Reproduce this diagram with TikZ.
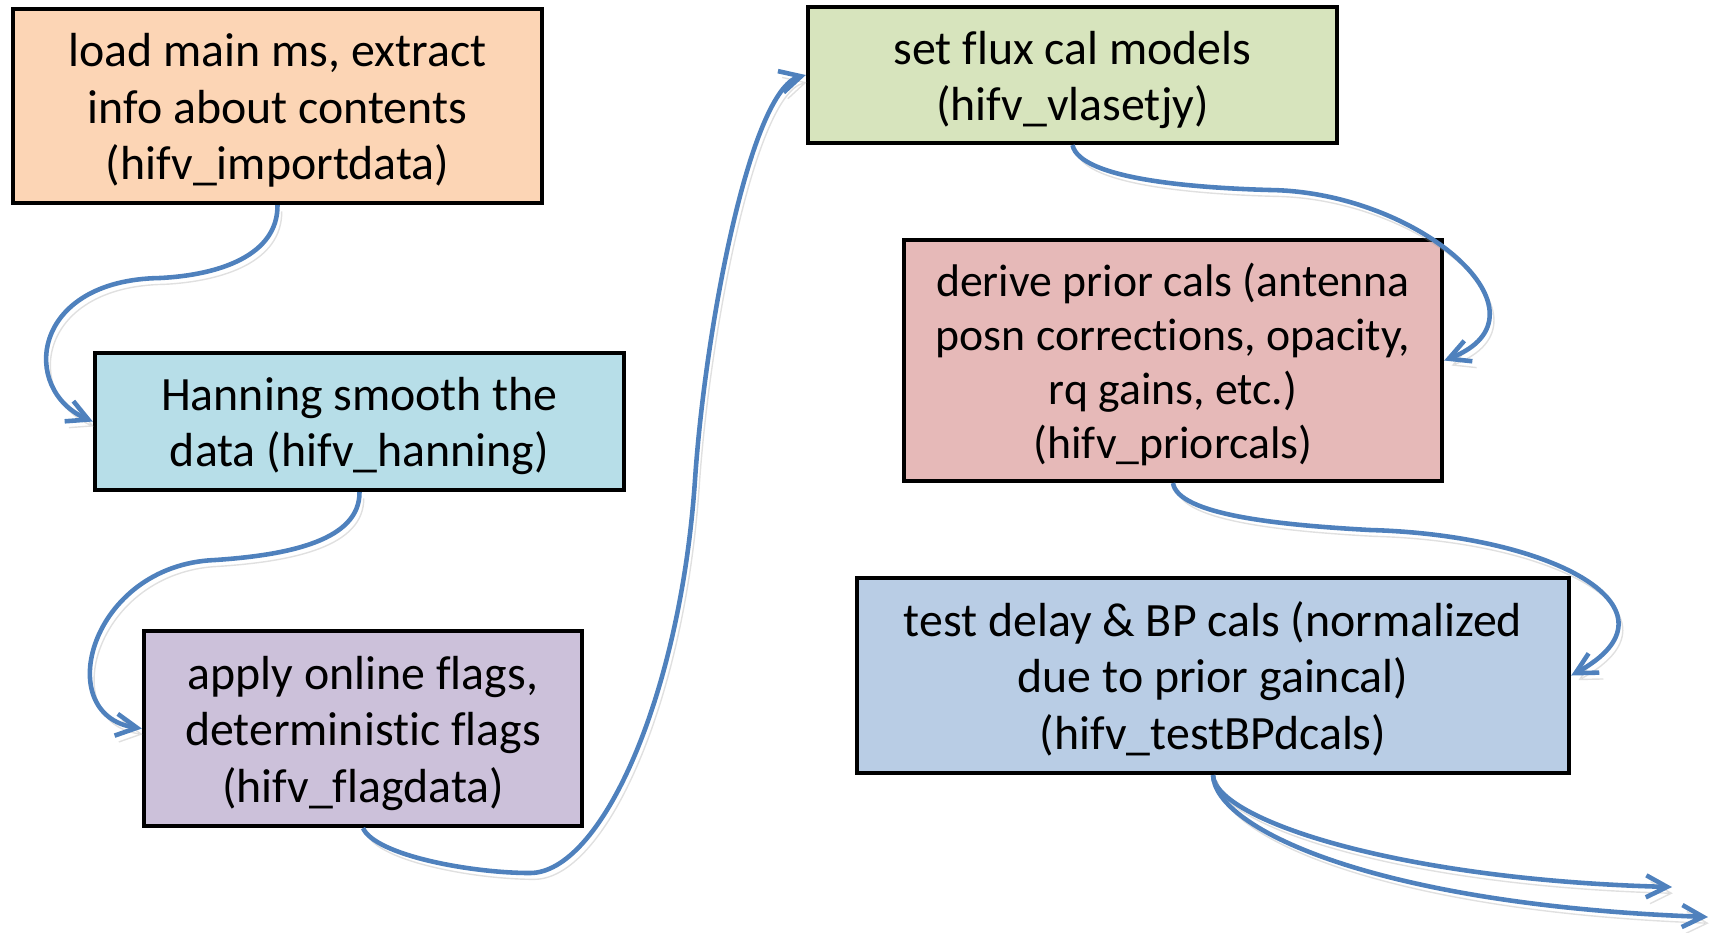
\documentclass[tikz,border=0pt]{standalone}
\usepackage{fontspec}
\setmainfont[Ligatures={NoCommon,NoRequired,NoContextual,NoRare},Contextuals=NoAlternate]{Carlito}
\usetikzlibrary{arrows.meta}
\definecolor{cOrange}{HTML}{FCD5B5}
\definecolor{cAqua}{HTML}{B7DEE8}
\definecolor{cPurple}{HTML}{CCC1DA}
\definecolor{cGreen}{HTML}{D7E4BD}
\definecolor{cRed}{HTML}{E6B9B8}
\definecolor{cBlue}{HTML}{B9CDE5}
\definecolor{arrowblue}{HTML}{4F81BD}
\newcommand\boxlines[1]{\raisebox{0pt}[\dimexpr\height+1.7pt\relax][\dimexpr\depth-1.7pt\relax]{\begin{tabular}{@{}c@{}}#1\end{tabular}}}
\begin{document}
\begin{tikzpicture}[x=0.01cm,y=-0.01cm,
  box/.style={draw=black, line width=1.15pt, inner sep=0pt,
    font=\fontsize{13.6}{16}\selectfont},
  flow/.style={draw=arrowblue, line width=1.3pt,
    -{Straight Barb[length=0.21cm,width=0.22cm]},
    preaction={draw=black!40, opacity=0.3, transform canvas={shift={(1.2pt,-1.8pt)}}}}]
\useasboundingbox (0,0) rectangle (1714,932);

\node[box, fill=cOrange, minimum width=5.29cm, minimum height=1.94cm] (imp) at (277.5,106)
  {\boxlines{load main ms, extract\\info about contents\\(hifv\_importdata)}};
\node[box, fill=cAqua, minimum width=5.29cm, minimum height=1.37cm] (han) at (359.5,421.5)
  {\boxlines{Hanning smooth the\\data (hifv\_hanning)}};
\node[box, fill=cPurple, minimum width=4.38cm, minimum height=1.95cm] (flag) at (363,728.5)
  {\boxlines{apply online flags,\\deterministic flags\\(hifv\_flagdata)}};
\node[box, fill=cGreen, minimum width=5.29cm, minimum height=1.36cm] (setjy) at (1072.5,75)
  {\boxlines{set flux cal models\\(hifv\_vlasetjy)}};
\node[box, fill=cRed, minimum width=5.38cm, minimum height=2.41cm,
  font=\fontsize{13}{15.4}\selectfont] (prior) at (1173,360.5)
  {\boxlines{derive prior cals (antenna\\posn corrections, opacity,\\rq gains, etc.)\\(hifv\_priorcals)}};
\node[box, fill=cBlue, minimum width=7.12cm, minimum height=1.95cm] (bp) at (1213,675.5)
  {\boxlines{test delay \& BP cals (normalized\\due to prior gaincal)\\(hifv\_testBPdcals)}};

\coordinate (e1) at (1672,887);
\coordinate (e2) at (1708,917);

\draw[flow] (imp.south) .. controls (278,255) and (220,275) .. (160,278)
  .. controls (30,280) and (20,390) .. (han.west);
\draw[flow] (han.south) .. controls (360,540) and (290,555) .. (215,560)
  .. controls (90,565) and (50,715) .. (flag.west);
\draw[flow] (flag.south) .. controls (375,855) and (470,873) .. (530,873)
  .. controls (600,873) and (680,700) .. (695,480)
  .. controls (705,330) and (750,90) .. (setjy.west);
\draw[flow] (setjy.south) .. controls (1080,180) and (1200,188) .. (1270,190)
  .. controls (1420,192) and (1560,315) .. (prior.east);
\draw[flow] (prior.south) .. controls (1178,515) and (1280,525) .. (1370,530)
  .. controls (1555,535) and (1690,610) .. (bp.east);
\draw[flow] (bp.south) .. controls (1215,820) and (1400,880) .. (e1);
\draw[flow] (bp.south) .. controls (1215,830) and (1380,905) .. (e2);
\end{tikzpicture}
\end{document}
